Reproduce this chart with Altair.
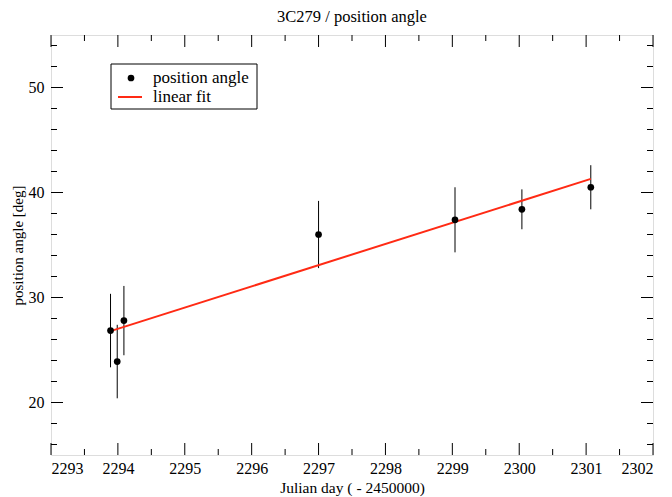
import altair as alt
import pandas as pd

# data
jd = [2293.89, 2293.99, 2294.09, 2297.0, 2299.04, 2300.04, 2301.07]
pa = [26.85, 23.9, 27.8, 36.0, 37.4, 38.4, 40.5]
err = [3.5, 3.5, 3.3, 3.2, 3.1, 1.9, 2.1]

fit_x = [2293.89, 2301.07]
fit_y = [26.8, 41.3]

x_major = list(range(2293, 2303))
x_minor = [v + 0.5 for v in range(2293, 2302)]
y_major = [20, 30, 40, 50]
y_minor = [16, 18, 22, 24, 26, 28, 32, 34, 36, 38, 42, 44, 46, 48, 52, 54]

legend_labels = ["position angle", "linear fit"]

W, H = 602, 420
FONT = "Liberation Serif"
RED = "#ff2a14"

df = pd.DataFrame({"jd": jd, "pa": pa, "err": err})
df["lo"] = df["pa"] - df["err"]
df["hi"] = df["pa"] + df["err"]
fit = pd.DataFrame({"jd": fit_x, "pa": fit_y})

xs = alt.Scale(domain=[2293, 2302], nice=False, zero=False)
ys = alt.Scale(domain=[15, 55], nice=False, zero=False)

xaxis = alt.Axis(values=x_major, format="d", title="Julian day ( - 2450000)",
                 labelFont=FONT, labelFontSize=16, titleFont=FONT, titleFontSize=15.5,
                 titleFontWeight="normal", ticks=False, domain=False, grid=False,
                 labelPadding=5, titlePadding=4, labelColor="black", titleColor="black")
yaxis = alt.Axis(values=y_major, format="d", title="position angle [deg]",
                 labelFont=FONT, labelFontSize=16, titleFont=FONT, titleFontSize=15,
                 titleFontWeight="normal", ticks=False, domain=False, grid=False,
                 labelPadding=7, titlePadding=3, labelColor="black", titleColor="black")

bars = alt.Chart(df).mark_rule(color="black", strokeWidth=1).encode(
    x=alt.X("jd:Q", scale=xs, axis=xaxis),
    y=alt.Y("lo:Q", scale=ys, axis=yaxis),
    y2="hi:Q",
)
pts = alt.Chart(df).mark_circle(color="black", opacity=1, size=45).encode(
    x=alt.X("jd:Q", scale=xs), y=alt.Y("pa:Q", scale=ys)
)
line = alt.Chart(fit).mark_line(color=RED, strokeWidth=2).encode(
    x=alt.X("jd:Q", scale=xs), y=alt.Y("pa:Q", scale=ys)
)

def xticks(vals, length):
    d = pd.DataFrame({"v": vals})
    b = alt.Chart(d).mark_rule(color="black", strokeWidth=1).encode(
        x=alt.X("v:Q", scale=xs), y=alt.value(H), y2=alt.value(H - length))
    t = alt.Chart(d).mark_rule(color="black", strokeWidth=1).encode(
        x=alt.X("v:Q", scale=xs), y=alt.value(0), y2=alt.value(length))
    return [b, t]

def yticks(vals, length):
    d = pd.DataFrame({"v": vals})
    l = alt.Chart(d).mark_rule(color="black", strokeWidth=1).encode(
        y=alt.Y("v:Q", scale=ys), x=alt.value(0), x2=alt.value(length))
    r = alt.Chart(d).mark_rule(color="black", strokeWidth=1).encode(
        y=alt.Y("v:Q", scale=ys), x=alt.value(W), x2=alt.value(W - length))
    return [l, r]

ticks = xticks(x_major, 12) + xticks(x_minor, 6) + yticks(y_major, 12) + yticks(y_minor, 6)

one = pd.DataFrame({"k": [0]})
leg_box = alt.Chart(one).mark_rect(fill="white", stroke="black", strokeWidth=1).encode(
    x=alt.value(60), x2=alt.value(206), y=alt.value(29), y2=alt.value(74))
leg_dot = alt.Chart(one).mark_circle(color="black", opacity=1, size=45).encode(
    x=alt.value(80), y=alt.value(43))
leg_line = alt.Chart(one).mark_rule(color=RED, strokeWidth=2).encode(
    x=alt.value(67), x2=alt.value(91), y=alt.value(62))
leg_t1 = alt.Chart(pd.DataFrame({"t": [legend_labels[0]]})).mark_text(
    font=FONT, fontSize=17, align="left", baseline="middle", color="black").encode(
    text="t:N", x=alt.value(102), y=alt.value(43))
leg_t2 = alt.Chart(pd.DataFrame({"t": [legend_labels[1]]})).mark_text(
    font=FONT, fontSize=17, align="left", baseline="middle", color="black").encode(
    text="t:N", x=alt.value(102), y=alt.value(62))

chart = alt.layer(
    bars, line, pts, *ticks, leg_box, leg_dot, leg_line, leg_t1, leg_t2
).properties(
    width=W, height=H,
    title=alt.Title("3C279 / position angle", font=FONT, fontSize=16.5,
                    fontWeight="normal", color="black", offset=9),
    autosize=alt.AutoSizeParams(type="none"),
    padding={"left": 43, "top": 27, "right": 11, "bottom": 42},
).configure_view(stroke="black", strokeWidth=1.5).configure(background="white")

chart.save("out.html", embed_options={"renderer": "svg", "actions": False})
